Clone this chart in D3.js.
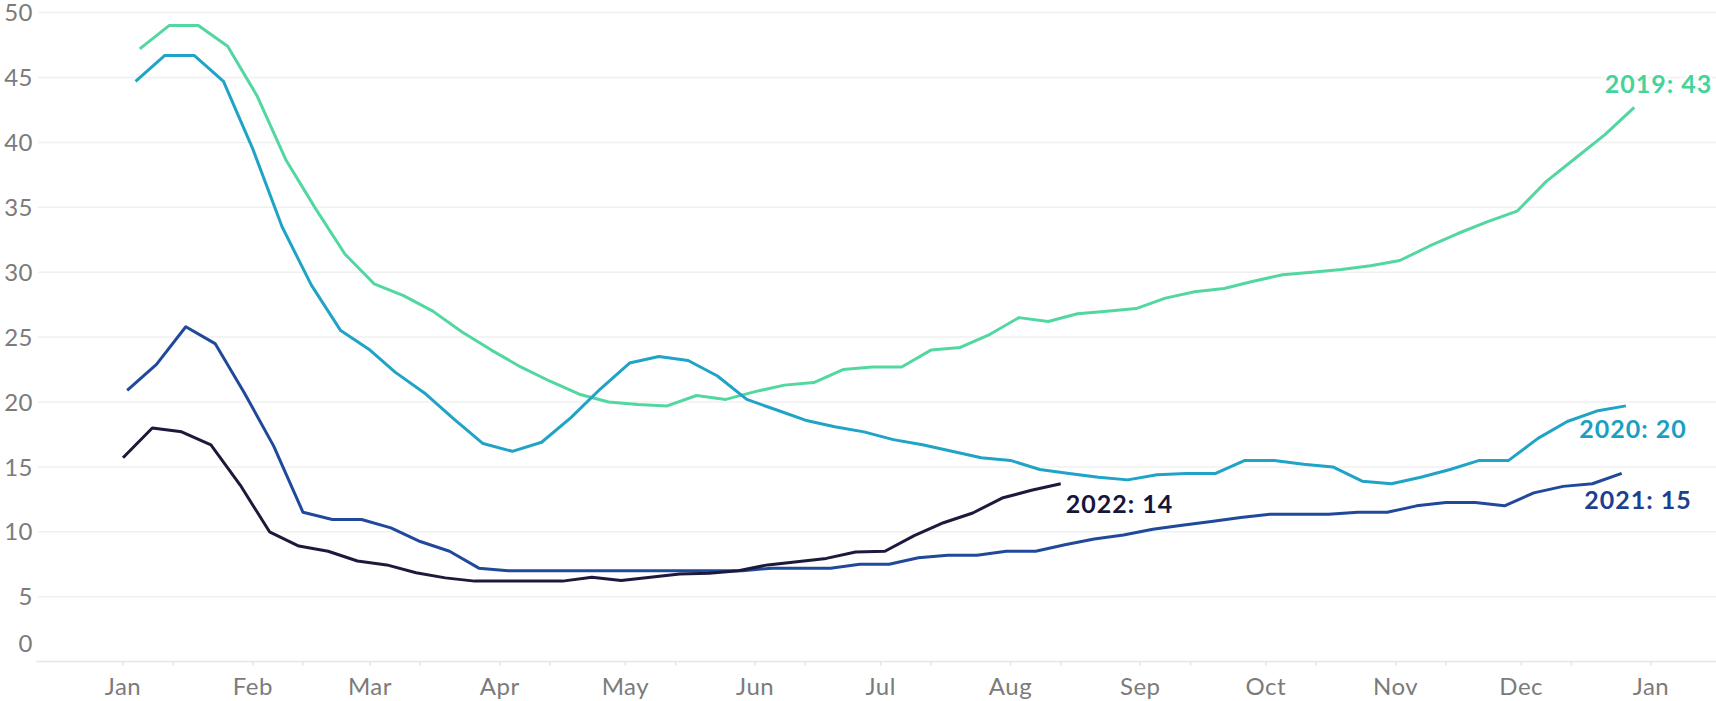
<!DOCTYPE html>
<html lang="en">
<head>
    <meta charset="utf-8" />
    <script src="https://d3js.org/d3.v7.min.js"></script>
    <style>
        body {
            margin: 0;
            background: #fff;
        }
        text {
            font-family: Lato, "Open Sans", sans-serif;
        }
    </style>
</head>
<body>
    <script>
        // weekly values, one array per year (week ending on Saturday)
        var years = ["2019", "2020", "2021", "2022"];
        var firstWeek = ["2019-01-05", "2020-01-04", "2021-01-02", "2022-01-01"];

        var values2019 = [47.2, 49.0, 49.0, 47.4, 43.6, 38.6, 34.9, 31.4, 29.1, 28.2, 27.0, 25.4, 24.0,
            22.7, 21.6, 20.6, 20.0, 19.8, 19.7, 20.5, 20.2, 20.8, 21.3, 21.5, 22.5, 22.7, 22.7, 24.0,
            24.2, 25.2, 26.5, 26.2, 26.8, 27.0, 27.2, 28.0, 28.5, 28.75, 29.3, 29.8, 30.0, 30.2, 30.5,
            30.9, 32.0, 33.0, 33.9, 34.7, 37.0, 38.8, 40.6, 42.7];
        var values2020 = [44.7, 46.7, 46.7, 44.7, 39.5, 33.5, 29.0, 25.5, 24.0, 22.3, 20.7, 18.7, 16.8,
            16.2, 16.9, 18.8, 21.0, 23.0, 23.5, 23.2, 22.0, 20.2, 19.4, 18.6, 18.1, 17.7, 17.1, 16.7,
            16.2, 15.7, 15.5, 14.8, 14.5, 14.2, 14.0, 14.4, 14.5, 14.5, 15.5, 15.5, 15.2, 15.0, 13.9,
            13.7, 14.2, 14.8, 15.5, 15.5, 17.2, 18.5, 19.3, 19.7];
        var values2021 = [20.9, 22.9, 25.8, 24.5, 20.7, 16.6, 11.5, 10.95, 10.95, 10.3, 9.25, 8.5, 7.2,
            7.0, 7.0, 7.0, 7.0, 7.0, 7.0, 7.0, 7.0, 7.0, 7.2, 7.2, 7.2, 7.5, 7.5, 8.0, 8.2, 8.2, 8.5,
            8.5, 9.0, 9.45, 9.75, 10.2, 10.5, 10.8, 11.1, 11.35, 11.35, 11.35, 11.5, 11.5, 12.0, 12.25,
            12.25, 12.0, 13.0, 13.5, 13.7, 14.5];
        var values2022 = [15.7, 18.0, 17.7, 16.7, 13.6, 10.0, 8.9, 8.5, 7.75, 7.45, 6.85, 6.45, 6.2,
            6.2, 6.2, 6.2, 6.5, 6.25, 6.5, 6.75, 6.8, 7.0, 7.45, 7.7, 7.95, 8.45, 8.5, 9.7, 10.7, 11.45,
            12.6, 13.2, 13.7];

        var labels = ["2019: 43", "2020: 20", "2021: 15", "2022: 14"];
        var yTicks = [0, 5, 10, 15, 20, 25, 30, 35, 40, 45, 50];

        var allValues = [values2019, values2020, values2021, values2022];
        var lineColors = ["#52d7a1", "#1fa3c6", "#21499b", "#1b1a3c"];
        var labelColors = ["#45d39a", "#1a9fc2", "#1d3f90", "#15163a"];

        var width = 1716, height = 701;

        var svg = d3.select("body").append("svg")
            .attr("width", width)
            .attr("height", height);

        // all years are drawn on one common year
        var x = d3.scaleTime()
            .domain([new Date(2001, 0, 1), new Date(2002, 0, 1)])
            .range([123, 1651]);

        var y = d3.scaleLinear()
            .domain([0, 50])
            .range([661.6, 12.6]);

        function toCommonYear(d) {
            return new Date(2001, d.getMonth(), d.getDate());
        }

        // build the series
        var parse = d3.timeParse("%Y-%m-%d");
        var series = years.map(function (yr, i) {
            var start = parse(firstWeek[i]);
            return {
                year: yr,
                points: allValues[i].map(function (v, k) {
                    return { date: toCommonYear(d3.timeDay.offset(start, 7 * k)), value: v };
                })
            };
        });

        // gridlines
        svg.append("g")
            .selectAll("line")
            .data(yTicks.filter(function (t) { return t > 0; }))
            .join("line")
            .attr("x1", 38)
            .attr("x2", width)
            .attr("y1", function (d) { return y(d); })
            .attr("y2", function (d) { return y(d); })
            .attr("stroke", "#f0f0f0")
            .attr("stroke-width", 1.5);

        // baseline
        svg.append("line")
            .attr("x1", 36)
            .attr("x2", width)
            .attr("y1", y(0))
            .attr("y2", y(0))
            .attr("stroke", "#e6e6e6")
            .attr("stroke-width", 1.5);

        // y labels (the 0 is lifted off the baseline)
        svg.append("g")
            .selectAll("text")
            .data(yTicks)
            .join("text")
            .attr("x", 33)
            .attr("y", function (d) { return d === 0 ? y(0) - 18 : y(d); })
            .attr("dy", "0.36em")
            .attr("text-anchor", "end")
            .attr("fill", "#7b7b7b")
            .attr("font-size", 24)
            .attr("letter-spacing", 0.5)
            .text(function (d) { return d; });

        // x axis: months, with small ticks
        var months = d3.timeMonth.range(new Date(2001, 0, 1), new Date(2002, 0, 2));
        var mid = d3.timeMonth.range(new Date(2001, 0, 1), new Date(2002, 0, 1)).map(function (m) {
            return d3.timeDay.offset(m, 12);
        });

        svg.append("g")
            .selectAll("line")
            .data(months.concat(mid))
            .join("line")
            .attr("x1", function (d) { return x(d); })
            .attr("x2", function (d) { return x(d); })
            .attr("y1", y(0))
            .attr("y2", y(0) + 4)
            .attr("stroke", "#e6e6e6")
            .attr("stroke-width", 1.5);

        svg.append("g")
            .selectAll("text")
            .data(months)
            .join("text")
            .attr("x", function (d) { return x(d); })
            .attr("y", 695)
            .attr("text-anchor", "middle")
            .attr("fill", "#7b7b7b")
            .attr("font-size", 24)
            .attr("letter-spacing", 0.5)
            .text(d3.timeFormat("%b"));

        // lines
        var line = d3.line()
            .x(function (d) { return x(d.date); })
            .y(function (d) { return y(d.value); });

        svg.append("g")
            .selectAll("path")
            .data(series)
            .join("path")
            .attr("fill", "none")
            .attr("stroke", function (d, i) { return lineColors[i]; })
            .attr("stroke-width", 3)
            .attr("stroke-linejoin", "round")
            .attr("d", function (d) { return line(d.points); });

        // end labels, placed off the last point
        var labelOffset = [
            { dx: 78, dy: -23, anchor: "end" },
            { dx: 61, dy: 23, anchor: "end" },
            { dx: 70, dy: 27, anchor: "end" },
            { dx: 5, dy: 20, anchor: "start" }
        ];

        svg.append("g")
            .selectAll("text")
            .data(series)
            .join("text")
            .attr("x", function (d, i) { return x(d.points[d.points.length - 1].date) + labelOffset[i].dx; })
            .attr("y", function (d, i) { return y(d.points[d.points.length - 1].value) + labelOffset[i].dy; })
            .attr("dy", "0.36em")
            .attr("text-anchor", function (d, i) { return labelOffset[i].anchor; })
            .attr("fill", function (d, i) { return labelColors[i]; })
            .attr("stroke", "#fff")
            .attr("stroke-width", 3)
            .attr("paint-order", "stroke")
            .attr("font-size", 25)
            .attr("font-weight", 700)
            .attr("letter-spacing", 1)
            .text(function (d, i) { return labels[i]; });
    </script>
</body>
</html>
